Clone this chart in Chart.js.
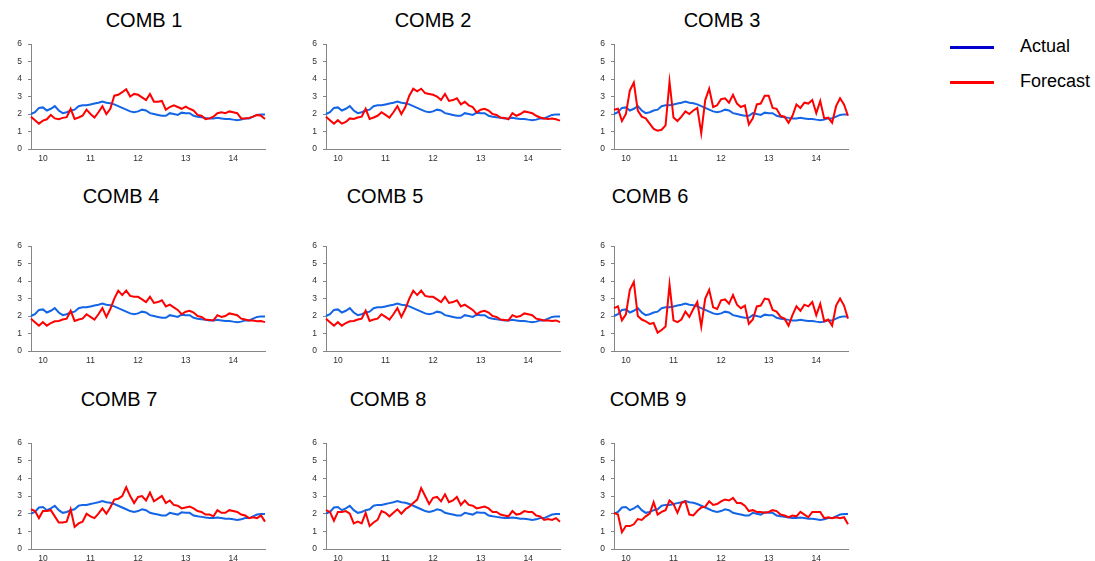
<!DOCTYPE html>
<html>
<head>
<meta charset="utf-8">
<script src="https://cdn.jsdelivr.net/npm/chart.js@4.4.1/dist/chart.umd.min.js"></script>
<style>
    body { margin: 0; background: #fff; width: 1095px; height: 561px; position: relative; overflow: hidden; font-family: "Liberation Sans", Arial, sans-serif; }
    .panel { position: absolute; }
    .title { position: absolute; width: 120px; text-align: center; font-size: 20px; line-height: 24px; color: #000; }
    .legend { position: absolute; left: 950px; font-size: 18px; color: #000; }
    .legend span { display: inline-block; width: 44px; height: 3px; vertical-align: middle; margin-right: 26px; }
</style>
</head>
<body>
<div class="legend" style="top:36px"><span style="background:#0000CC"></span>Actual</div>
<div class="legend" style="top:71px"><span style="background:#FF0000"></span>Forecast</div>

<script>
const titles = ['COMB 1', 'COMB 2', 'COMB 3', 'COMB 4', 'COMB 5', 'COMB 6', 'COMB 7', 'COMB 8', 'COMB 9'];
const yTicks = [0, 1, 2, 3, 4, 5, 6];
const yearLabels = ['10', '11', '12', '13', '14']; // shown at each January
const firstMonth = { year: 2009, month: 10 }; // monthly data, Oct 2009 - Sep 2014

const actual = [2.0, 2.1, 2.35, 2.38, 2.2, 2.3, 2.45, 2.2, 2.05, 2.1, 2.2, 2.25, 2.45, 2.5, 2.5, 2.55, 2.6, 2.65, 2.72, 2.65,
    2.62, 2.55, 2.45, 2.35, 2.25, 2.15, 2.1, 2.15, 2.25, 2.2, 2.05, 2.0, 1.95, 1.9, 1.9, 2.05, 2.0, 1.95, 2.08, 2.05,
    2.05, 1.9, 1.85, 1.82, 1.78, 1.75, 1.75, 1.78, 1.75, 1.72, 1.72, 1.68, 1.65, 1.68, 1.75, 1.75, 1.85, 1.95, 1.98, 1.98];

const comb1 = [1.85, 1.65, 1.45, 1.62, 1.7, 1.95, 1.75, 1.7, 1.78, 1.82, 2.3, 1.72, 1.8, 1.9, 2.25, 2.0, 1.8, 2.1, 2.45, 2.0,
    2.3, 3.05, 3.1, 3.25, 3.42, 3.0, 3.15, 3.1, 2.95, 2.8, 3.15, 2.7, 2.7, 2.75, 2.25, 2.4, 2.5, 2.4, 2.3, 2.42,
    2.3, 2.2, 1.95, 1.9, 1.7, 1.75, 1.85, 2.05, 2.1, 2.05, 2.15, 2.1, 2.05, 1.75, 1.75, 1.78, 1.85, 1.95, 1.9, 1.72];
const comb2 = [1.85, 1.65, 1.45, 1.65, 1.45, 1.55, 1.75, 1.72, 1.8, 1.85, 2.3, 1.72, 1.8, 1.9, 2.1, 1.95, 1.8, 2.1, 2.45, 2.0,
    2.4, 3.05, 3.45, 3.3, 3.45, 3.2, 3.15, 3.1, 3.0, 2.8, 3.15, 2.75, 2.8, 2.9, 2.55, 2.7, 2.5, 2.4, 2.1, 2.25,
    2.3, 2.2, 2.0, 1.95, 1.8, 1.78, 1.7, 2.05, 1.9, 2.0, 2.15, 2.1, 2.05, 1.9, 1.8, 1.75, 1.72, 1.75, 1.7, 1.62];
const comb3 = [2.25, 2.3, 1.6, 2.0, 3.35, 3.8, 2.2, 1.85, 1.75, 1.45, 1.15, 1.05, 1.1, 1.35, 3.85, 1.8, 1.6, 1.85, 2.15, 2.0,
    2.2, 2.35, 0.9, 2.8, 3.45, 2.4, 2.5, 2.85, 2.9, 2.65, 3.1, 2.6, 2.4, 2.5, 1.4, 1.75, 2.55, 2.6, 3.05, 3.05,
    2.35, 2.3, 1.9, 1.85, 1.5, 1.9, 2.55, 2.35, 2.65, 2.6, 2.8, 2.05, 2.75, 1.75, 1.8, 1.5, 2.45, 2.9, 2.55, 1.9];
const comb4 = [1.85, 1.65, 1.45, 1.65, 1.45, 1.6, 1.7, 1.72, 1.8, 1.85, 2.3, 1.72, 1.8, 1.85, 2.1, 1.95, 1.8, 2.1, 2.45, 1.95,
    2.4, 3.0, 3.45, 3.2, 3.45, 3.15, 3.1, 3.1, 2.95, 2.8, 3.1, 2.75, 2.8, 2.9, 2.55, 2.65, 2.5, 2.35, 2.1, 2.25,
    2.3, 2.2, 2.0, 1.95, 1.8, 1.78, 1.75, 2.05, 1.95, 2.0, 2.15, 2.1, 2.05, 1.85, 1.8, 1.75, 1.75, 1.7, 1.72, 1.65];
const comb5 = [1.85, 1.65, 1.45, 1.65, 1.45, 1.6, 1.7, 1.72, 1.8, 1.85, 2.3, 1.72, 1.8, 1.85, 2.1, 1.95, 1.8, 2.1, 2.45, 1.95,
    2.4, 3.0, 3.45, 3.2, 3.45, 3.15, 3.1, 3.1, 2.95, 2.8, 3.1, 2.75, 2.8, 2.9, 2.55, 2.65, 2.5, 2.35, 2.1, 2.25,
    2.3, 2.2, 2.0, 1.95, 1.8, 1.78, 1.75, 2.05, 1.95, 2.0, 2.15, 2.1, 2.05, 1.85, 1.8, 1.75, 1.75, 1.72, 1.75, 1.65];
const comb6 = [2.45, 2.55, 1.75, 2.1, 3.5, 3.95, 2.0, 1.8, 1.7, 1.55, 1.6, 1.05, 1.2, 1.4, 3.8, 1.75, 1.65, 1.8, 2.25, 1.95,
    2.4, 2.8, 1.4, 3.0, 3.5, 2.5, 2.4, 2.9, 2.95, 2.7, 3.2, 2.65, 2.45, 2.6, 1.55, 1.8, 2.55, 2.6, 3.0, 2.95,
    2.35, 2.25, 1.95, 1.85, 1.45, 2.05, 2.55, 2.3, 2.65, 2.55, 2.8, 2.05, 2.7, 1.7, 1.8, 1.45, 2.6, 3.0, 2.6, 1.85];
const comb7 = [2.25, 2.15, 1.75, 2.15, 2.15, 2.2, 1.85, 1.5, 1.5, 1.55, 2.25, 1.25, 1.45, 1.55, 2.0, 1.85, 1.75, 2.0, 2.3, 2.0,
    2.35, 2.8, 2.85, 3.0, 3.5, 3.0, 2.6, 2.95, 3.0, 2.75, 3.2, 2.7, 2.85, 3.0, 2.6, 2.75, 2.5, 2.45, 2.3, 2.35,
    2.4, 2.3, 2.15, 2.1, 1.95, 1.95, 1.85, 2.2, 2.05, 2.05, 2.2, 2.15, 2.1, 1.95, 1.9, 1.75, 1.8, 1.75, 1.9, 1.55];
const comb8 = [2.2, 2.1, 1.6, 2.1, 2.1, 2.15, 2.0, 1.45, 1.55, 1.45, 2.05, 1.3, 1.5, 1.65, 2.15, 2.05, 1.85, 2.05, 2.25, 2.0,
    2.25, 2.4, 2.6, 2.8, 3.45, 3.0, 2.55, 2.9, 2.95, 2.7, 3.1, 2.65, 2.75, 2.95, 2.5, 2.75, 2.5, 2.45, 2.3, 2.35,
    2.4, 2.3, 2.1, 2.1, 1.95, 1.9, 1.85, 2.15, 1.95, 2.0, 2.15, 2.1, 2.1, 1.9, 1.85, 1.65, 1.7, 1.65, 1.75, 1.55];
const comb9 = [2.05, 1.95, 0.95, 1.3, 1.3, 1.4, 1.7, 1.65, 1.85, 2.0, 2.65, 1.95, 2.1, 2.2, 2.75, 2.55, 2.05, 2.6, 2.7, 1.95,
    1.9, 2.15, 2.35, 2.4, 2.7, 2.5, 2.55, 2.7, 2.8, 2.75, 2.9, 2.6, 2.6, 2.45, 2.15, 2.2, 2.1, 2.1, 2.05, 2.1,
    2.2, 2.15, 1.95, 1.9, 1.8, 1.9, 1.85, 2.1, 1.95, 1.8, 2.1, 2.1, 2.1, 1.75, 1.8, 1.75, 1.8, 1.75, 1.8, 1.4];

const forecasts = [comb1, comb2, comb3, comb4, comb5, comb6, comb7, comb8, comb9];

// month labels like "2009-10"
const months = [];
for (let i = 0; i < actual.length; i++) {
    const m = firstMonth.month - 1 + i;
    const y = firstMonth.year + Math.floor(m / 12);
    months.push(y + '-' + String(m % 12 + 1).padStart(2, '0'));
}

// layout of the 3x3 grid
const axisX = [31, 326, 614];        // y axis line of each column
const plotW = 234;
const plotTop = [43, 245, 442];
const plotH = [105, 105, 106];
const titleCenter = [[144, 433, 722], [121, 385, 650], [119, 388, 648]];
const titleY = [20, 196, 399];
const padTop = 10; // chart.js keeps about this much above the plot for the top label

const tickFont = { family: '"Liberation Sans", Arial, sans-serif', size: 8.5 };

function makePanel(i) {
    const row = Math.floor(i / 3), col = i % 3;

    const t = document.createElement('div');
    t.className = 'title';
    t.textContent = titles[i];
    t.style.left = (titleCenter[row][col] - 60) + 'px';
    t.style.top = (titleY[row] - 12) + 'px';
    document.body.appendChild(t);

    const box = document.createElement('div');
    box.className = 'panel';
    const w = 31 + plotW + 3, h = padTop + plotH[row] + 19;
    box.style.left = (axisX[col] - 31) + 'px';
    box.style.top = (plotTop[row] - padTop) + 'px';
    box.style.width = w + 'px';
    box.style.height = h + 'px';
    const canvas = document.createElement('canvas');
    box.appendChild(canvas);
    document.body.appendChild(box);

    new Chart(canvas, {
        type: 'line',
        data: {
            labels: months,
            datasets: [
                { label: 'Actual', data: actual, borderColor: '#1464E6', borderWidth: 2, pointRadius: 0, tension: 0, order: 1 },
                { label: 'Forecast', data: forecasts[i], borderColor: '#FF0000', borderWidth: 2, pointRadius: 0, tension: 0, order: 0 }
            ]
        },
        options: {
            responsive: true,
            maintainAspectRatio: false,
            animation: false,
            layout: { padding: { top: 0, right: 3, left: 0, bottom: 0 } },
            plugins: { legend: { display: false }, tooltip: { enabled: false } },
            scales: {
                x: {
                    offset: false,
                    grid: { display: false, drawTicks: false },
                    border: { display: true, color: '#868686', width: 1 },
                    ticks: {
                        autoSkip: false, maxRotation: 0, padding: 5, color: '#303030', font: tickFont,
                        callback: function (v, idx) {
                            const parts = months[idx].split('-');
                            if (parts[1] !== '01') return null;
                            return yearLabels[yearLabels.indexOf(parts[0].slice(2))];
                        }
                    },
                    afterFit: function (s) { s.height = 18; }
                },
                y: {
                    min: yTicks[0],
                    max: yTicks[yTicks.length - 1],
                    grid: { display: true, drawOnChartArea: false, drawTicks: true, tickLength: 3, color: '#868686' },
                    border: { display: true, color: '#868686', width: 1 },
                    ticks: { stepSize: 1, padding: 6, color: '#303030', font: tickFont },
                    afterFit: function (s) { s.width = 31; }
                }
            }
        }
    });
}

for (let i = 0; i < titles.length; i++) {
    makePanel(i);
}
</script>
</body>
</html>
